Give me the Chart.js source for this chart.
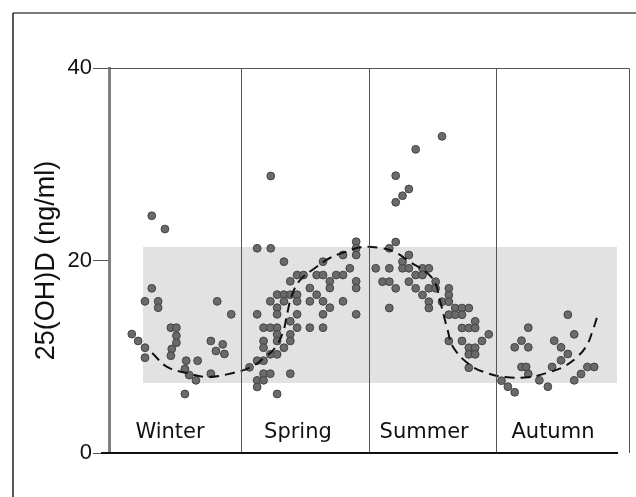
<!DOCTYPE html>
<html>
<head>
<meta charset="utf-8">
<script src="https://cdn.jsdelivr.net/npm/chart.js@4/dist/chart.umd.min.js"></script>
<style>
	body { margin: 0; background: #fff; }
	#wrap { width: 636px; height: 497px; }
</style>
</head>
<body>
<div id="wrap"><canvas id="myChart" width="636" height="497"></canvas></div>
<script>
// seasons, 3 "months" wide each on the x axis
const seasons = ["Winter", "Spring", "Summer", "Autumn"];
const seasonEdges = [3, 6, 9];
const seasonLabelX = [1.33, 4.34, 7.31, 10.34];
const yTicks = [0, 20, 40];

// shaded reference band
const bandX = [0.69, 11.85];
const bandTop = 21.4;
const bandBottom = 7.27;

// 25(OH)D measurements [x, ng/ml]
const winterPts = [
	[0.90, 24.65], [1.21, 23.27], [0.90, 17.11], [0.74, 15.76], [1.05, 15.76],
	[1.05, 15.10], [2.44, 15.76], [2.77, 14.41], [1.35, 13.02], [1.48, 13.02],
	[1.48, 12.19], [1.48, 11.46], [1.37, 10.81], [1.35, 10.11], [0.43, 12.36],
	[0.58, 11.64], [0.74, 10.94], [0.74, 9.90], [2.29, 11.64], [2.57, 11.29],
	[2.41, 10.60], [2.61, 10.29], [1.71, 9.59], [1.98, 9.59], [1.68, 8.73],
	[1.78, 8.10], [1.94, 7.55], [2.29, 8.24], [1.68, 6.13],
];
const springPts = [
	[3.20, 8.90], [3.70, 28.78], [3.38, 21.27], [3.70, 21.27], [4.01, 19.88],
	[5.71, 21.95], [5.71, 21.27], [5.71, 20.57], [5.40, 20.57], [4.93, 19.88],
	[5.56, 19.19], [4.32, 18.49], [4.47, 18.49], [4.78, 18.49], [4.93, 18.49],
	[5.24, 18.49], [5.40, 18.49], [4.16, 17.84], [5.09, 17.84], [5.71, 17.84],
	[4.62, 17.14], [5.09, 17.14], [5.71, 17.14], [3.85, 16.45], [4.01, 16.45],
	[4.16, 16.45], [4.32, 16.45], [4.78, 16.45], [3.69, 15.76], [4.01, 15.76],
	[4.32, 15.76], [4.62, 15.76], [4.93, 15.76], [5.40, 15.76], [3.85, 15.10],
	[5.09, 15.10], [3.38, 14.41], [3.85, 14.41], [4.32, 14.41], [4.93, 14.41],
	[5.71, 14.41], [4.16, 13.68], [3.53, 13.02], [3.69, 13.02], [3.85, 13.02],
	[4.32, 13.02], [4.62, 13.02], [4.93, 13.02], [3.85, 12.33], [4.16, 12.33],
	[3.53, 11.64], [3.85, 11.64], [4.16, 11.64], [3.53, 10.94], [4.01, 10.94],
	[3.69, 10.25], [3.85, 10.25], [3.38, 9.59], [3.53, 9.59], [3.53, 8.24],
	[3.69, 8.24], [4.16, 8.24], [3.38, 7.55], [3.53, 7.55], [3.38, 6.86],
	[3.85, 6.13],
];
const summerPts = [
	[7.73, 32.90], [7.11, 31.55], [6.64, 28.81], [6.95, 27.43], [6.80, 26.73],
	[6.64, 26.05], [6.64, 21.92], [6.49, 21.27], [6.95, 20.57], [6.80, 19.88],
	[6.17, 19.19], [6.49, 19.19], [6.80, 19.19], [6.95, 19.19], [7.27, 19.19],
	[7.42, 19.19], [7.11, 18.49], [7.27, 18.49], [6.33, 17.80], [6.49, 17.80],
	[6.95, 17.80], [7.58, 17.80], [6.64, 17.11], [7.11, 17.11], [7.42, 17.11],
	[7.58, 17.11], [7.89, 17.11], [7.27, 16.42], [7.89, 16.42], [7.42, 15.72],
	[7.73, 15.72], [7.89, 15.72], [6.49, 15.06], [7.42, 15.06], [8.04, 15.06],
	[8.20, 15.06], [8.36, 15.06], [7.89, 14.37], [8.04, 14.37], [8.20, 14.37],
	[8.51, 13.68], [8.20, 12.99], [8.36, 12.99], [8.51, 12.99], [8.83, 12.33],
	[7.89, 11.64], [8.20, 11.64], [8.67, 11.64], [8.36, 10.94], [8.51, 10.94],
	[8.36, 10.25], [8.51, 10.25], [8.36, 8.86],
];
const autumnPts = [
	[9.13, 7.51], [9.28, 6.89], [9.44, 6.31], [10.69, 14.37], [9.76, 13.02],
	[10.84, 12.33], [9.60, 11.67], [10.37, 11.67], [9.44, 10.98], [9.76, 10.98],
	[10.53, 10.98], [10.69, 10.29], [10.53, 9.63], [9.60, 8.94], [9.71, 8.94],
	[10.32, 8.94], [11.15, 8.94], [11.31, 8.94], [9.76, 8.21], [11.00, 8.21],
	[10.02, 7.55], [10.84, 7.55], [10.22, 6.89],
];

// seasonal fit curve (dashed)
const fitX = [0.91, 1.26, 1.73, 2.20, 2.81, 3.24, 3.57, 3.80, 3.99, 4.08, 4.20, 4.39,
	4.74, 5.09, 5.45, 5.85, 6.27, 6.62, 6.98, 7.38, 7.57, 7.68, 7.78, 7.85, 7.99,
	8.39, 8.79, 9.21, 9.80, 10.27, 10.58, 10.91, 11.14, 11.28, 11.38];
const fitY = [10.39, 8.94, 8.31, 7.90, 8.31, 8.94, 9.97, 10.91, 12.57, 14.34, 16.42, 17.97,
	19.22, 20.26, 20.88, 21.40, 21.30, 20.88, 19.84, 18.70, 17.66, 15.90, 14.13, 12.99, 11.01,
	9.14, 8.31, 7.90, 7.90, 8.42, 8.94, 9.97, 11.22, 12.78, 14.13];

const toXY = (arr) => arr.map((p) => ({ x: p[0], y: p[1] }));

const pointStyle = {
	type: "scatter",
	pointRadius: 3.9,
	pointBackgroundColor: "#6a6a6a",
	pointBorderColor: "#444",
	pointBorderWidth: 1,
	showLine: false,
	order: 1,
};

const framePlugin = {
	id: "frame",
	beforeDatasetsDraw(chart) {
		const { ctx } = chart;
		ctx.save();
		// outer figure frame
		ctx.strokeStyle = "#7a7a7a";
		ctx.lineWidth = 2;
		ctx.beginPath();
		ctx.moveTo(636, 13);
		ctx.lineTo(13, 13);
		ctx.stroke();
		ctx.strokeStyle = "#222";
		ctx.lineWidth = 1.5;
		ctx.beginPath();
		ctx.moveTo(13, 13);
		ctx.lineTo(13, 497);
		ctx.stroke();
		ctx.restore();
	},
	afterDatasetsDraw(chart) {
		const { ctx, chartArea: a, scales } = chart;
		ctx.save();
		ctx.strokeStyle = "#555";
		ctx.lineWidth = 1;
		// top and right borders
		ctx.beginPath();
		ctx.moveTo(a.left, a.top + 0.5);
		ctx.lineTo(a.right - 0.5, a.top + 0.5);
		ctx.lineTo(a.right - 0.5, a.bottom);
		ctx.stroke();
		// season dividers
		seasonEdges.forEach((v) => {
			const px = Math.round(scales.x.getPixelForValue(v)) + 0.5;
			ctx.beginPath();
			ctx.moveTo(px, a.top);
			ctx.lineTo(px, a.bottom);
			ctx.stroke();
		});
		// x axis line
		ctx.strokeStyle = "#111";
		ctx.lineWidth = 2;
		ctx.beginPath();
		ctx.moveTo(a.left - 8, a.bottom);
		ctx.lineTo(scales.x.getPixelForValue(bandX[1]) + 1, a.bottom);
		ctx.stroke();
		// season names
		ctx.fillStyle = "#111";
		ctx.font = "21px 'DejaVu Sans'";
		ctx.textAlign = "center";
		ctx.textBaseline = "middle";
		seasons.forEach((s, i) => {
			ctx.fillText(s, scales.x.getPixelForValue(seasonLabelX[i]), a.bottom - 20);
		});
		ctx.restore();
	},
};

new Chart(document.getElementById("myChart"), {
	type: "scatter",
	data: {
		datasets: [
			Object.assign({ label: "Winter", data: toXY(winterPts) }, pointStyle),
			Object.assign({ label: "Spring", data: toXY(springPts) }, pointStyle),
			Object.assign({ label: "Summer", data: toXY(summerPts) }, pointStyle),
			Object.assign({ label: "Autumn", data: toXY(autumnPts) }, pointStyle),
			{
				type: "line",
				label: "fit",
				data: fitX.map((x, i) => ({ x: x, y: fitY[i] })),
				borderColor: "#111",
				borderWidth: 2,
				borderDash: [10, 6],
				pointRadius: 0,
				tension: 0.4,
				fill: false,
				order: 0,
			},
			{
				type: "line",
				label: "band top",
				data: bandX.map((x) => ({ x: x, y: bandTop })),
				borderWidth: 0,
				pointRadius: 0,
				backgroundColor: "#e2e2e2",
				fill: "+1",
				order: 5,
			},
			{
				type: "line",
				label: "band bottom",
				data: bandX.map((x) => ({ x: x, y: bandBottom })),
				borderWidth: 0,
				pointRadius: 0,
				fill: false,
				order: 6,
			},
		],
	},
	options: {
		responsive: false,
		animation: false,
		layout: { padding: { left: 20, top: 68, right: 6, bottom: 44 } },
		plugins: {
			legend: { display: false },
			tooltip: { enabled: false },
		},
		scales: {
			x: {
				type: "linear",
				min: -0.106,
				max: 12.153,
				display: false,
			},
			y: {
				min: 0,
				max: 40,
				afterBuildTicks: (scale) => {
					scale.ticks = yTicks.map((v) => ({ value: v }));
				},
				afterFit: (scale) => {
					scale.width = 89;
				},
				border: { display: true, color: "#808080", width: 3 },
				grid: {
					drawOnChartArea: false,
					drawTicks: true,
					tickLength: 16,
					tickColor: "#555",
				},
				ticks: {
					color: "#111",
					padding: 1,
					font: { family: "'Liberation Sans', Arial, sans-serif", size: 22 },
				},
				title: {
					display: true,
					text: "25(OH)D (ng/ml)",
					color: "#111",
					padding: { top: 10, bottom: 0 },
					font: { family: "'Liberation Sans', Arial, sans-serif", size: 27 },
				},
			},
		},
	},
	plugins: [framePlugin],
});
</script>
</body>
</html>
